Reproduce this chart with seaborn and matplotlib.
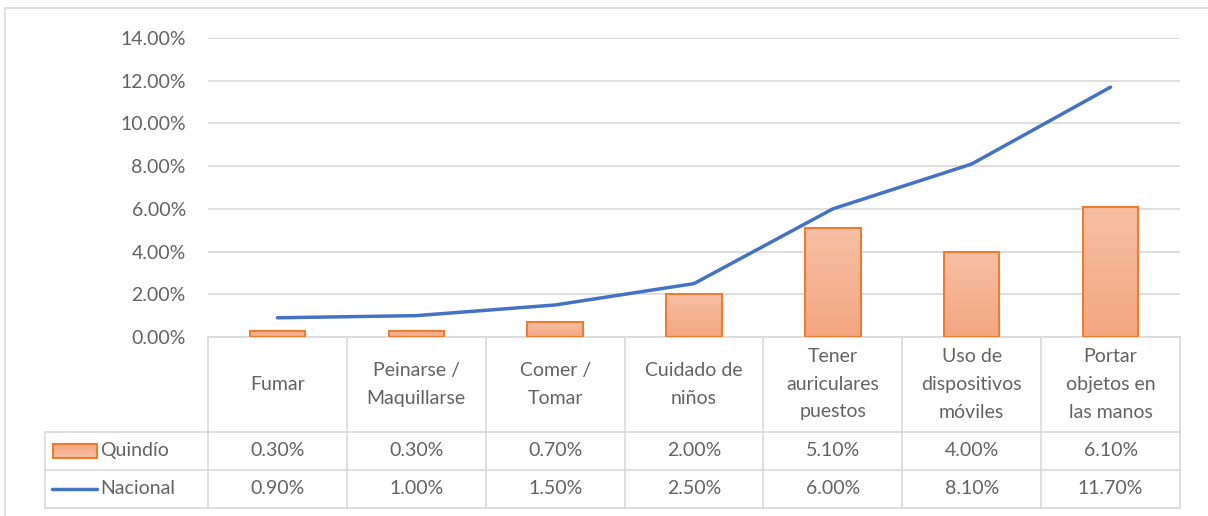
import numpy as np
import pandas as pd
import matplotlib.pyplot as plt
import seaborn as sns
from matplotlib.colors import LinearSegmentedColormap

categorias = ['Fumar', 'Peinarse /\nMaquillarse', 'Comer /\nTomar', 'Cuidado de\nniños',
              'Tener\nauriculares\npuestos', 'Uso de\ndispositivos\nmóviles',
              'Portar\nobjetos en\nlas manos']
quindio = [0.30, 0.30, 0.70, 2.00, 5.10, 4.00, 6.10]
nacional = [0.90, 1.00, 1.50, 2.50, 6.00, 8.10, 11.70]
series = ['Quindío', 'Nacional']

sns.set_style('white')
plt.rcParams['font.family'] = ['Lato', 'DejaVu Sans']

gris = '#636363'
borde = '#D9D9D9'
naranja = '#ED7D31'
azul = '#4472C4'
grad = LinearSegmentedColormap.from_list('g', ['#F4A681', '#F7BFA4'])
fs = 14

W, H = 1208, 516
fig = plt.figure(figsize=(W / 100, H / 100), dpi=100)

def fx(px):
    return px / W

def fy(py):
    return 1 - py / H

x0, x1 = 208, 1180
ytop, ybot = 38, 337
ax = fig.add_axes([fx(x0), fy(ybot), fx(x1) - fx(x0), fy(ytop) - fy(ybot)])

df = pd.DataFrame({'cat': range(len(categorias)), 'q': quindio})
sns.barplot(data=df, x='cat', y='q', color='#F5B090', width=0.4,
            edgecolor=naranja, linewidth=1.5, ax=ax, native_scale=True, zorder=3)
# gradient fill for bars
for p in ax.patches:
    bx, by = p.get_x(), p.get_y()
    bw, bh = p.get_width(), p.get_height()
    im = ax.imshow(np.linspace(0, 1, 100).reshape(-1, 1), cmap=grad, aspect='auto',
                   origin='lower', extent=[bx, bx + bw, by, by + bh], zorder=3)
    im.set_clip_path(p)
    p.set_zorder(4)
    p.set_facecolor('none')

sns.lineplot(x=np.arange(len(categorias)), y=nacional, color=azul, linewidth=2.5,
             ax=ax, zorder=5)

ax.set_xlim(-0.5, len(categorias) - 0.5)
ax.set_ylim(0, 14)
ax.set_yticks(np.arange(0, 15, 2))
ax.set_yticklabels([f'{v:.2f}%' for v in np.arange(0, 15, 2)], color=gris, fontsize=fs)
ax.tick_params(axis='y', length=0, pad=16)
ax.set_xticks([])
ax.set_xlabel('')
ax.set_ylabel('')
ax.grid(axis='y', color=borde, linewidth=1.2, zorder=0)
for s in ['top', 'right', 'left']:
    ax.spines[s].set_visible(False)
ax.spines['bottom'].set_color(borde)
ax.spines['bottom'].set_linewidth(1.2)

# data table below
tl = 45
tab_bot = 508
colw = (x1 - x0) / len(categorias)
tax = fig.add_axes([fx(tl), fy(tab_bot), fx(x1) - fx(tl), fy(ybot) - fy(tab_bot)])
left = -0.5 - (x0 - tl) / colw
tax.axis('off')
r1, r2 = 432, 470
lc = dict(color=borde, linewidth=1.2, clip_on=False)
for xb in np.arange(-0.5, len(categorias), 1.0):
    tax.plot([xb, xb], [ybot, tab_bot], **lc)
tax.plot([left, left], [r1, tab_bot], **lc)
for yb in [r1, r2, tab_bot]:
    tax.plot([left, len(categorias) - 0.5], [yb, yb], **lc)

for i, c in enumerate(categorias):
    tax.text(i, (ybot + r1) / 2, c, ha='center', va='center', color=gris,
             fontsize=fs, linespacing=1.75)
    tax.text(i, (r1 + r2) / 2, f'{quindio[i]:.2f}%', ha='center', va='center',
             color=gris, fontsize=fs)
    tax.text(i, (r2 + tab_bot) / 2, f'{nacional[i]:.2f}%', ha='center', va='center',
             color=gris, fontsize=fs)

# legend keys in the table
kx0 = left + 8 / colw
kx1 = left + 52 / colw
ky = (r1 + r2) / 2
tax.imshow(np.linspace(0, 1, 50).reshape(-1, 1), cmap=grad, aspect='auto',
           origin='upper', extent=[kx0, kx1, ky + 7, ky - 7], zorder=2)
tax.add_patch(plt.Rectangle((kx0, ky - 7), kx1 - kx0, 14, facecolor='none',
                            edgecolor=naranja, linewidth=1.5, zorder=3))
tax.plot([left + 7 / colw, kx1], [(r2 + tab_bot) / 2] * 2, color=azul, linewidth=2.5)
tax.text(kx1 + 3 / colw, ky, series[0], ha='left', va='center', color=gris, fontsize=fs)
tax.text(kx1 + 3 / colw, (r2 + tab_bot) / 2, series[1], ha='left', va='center',
         color=gris, fontsize=fs)
tax.set_xlim(left, len(categorias) - 0.5)
tax.set_ylim(tab_bot, ybot)

# outer chart border (left and top)
fig.add_artist(plt.Line2D([fx(5), fx(5)], [fy(8), 0], color=borde, linewidth=1.2))
fig.add_artist(plt.Line2D([fx(5), 1], [fy(8), fy(8)], color=borde, linewidth=1.2))

fig.savefig('out.png', dpi=100)
